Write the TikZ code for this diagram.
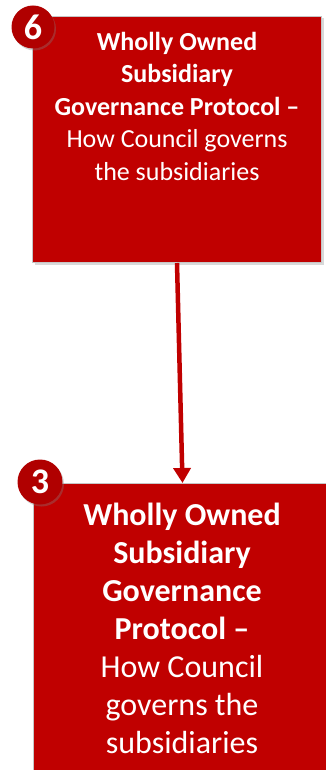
\documentclass[tikz,border=0pt]{standalone}
\usepackage{fontspec}
\setmainfont{Carlito}
\usepackage{xcolor}
\usepackage{tikz}
\usetikzlibrary{arrows.meta, positioning, shadows}
\definecolor{boxred}{RGB}{192,0,0}
\definecolor{badgered}{RGB}{176,0,0}

\begin{document}
\begin{tikzpicture}[
  x=1pt, y=-1pt,
  box/.style={draw=gray!45, line width=1pt, fill=boxred, inner sep=0pt,
    drop shadow={shadow xshift=2pt, shadow yshift=-2pt, opacity=0.3}},
  badge/.style={circle, fill=badgered, text=white, font=\bfseries\fontsize{36}{36}\selectfont,
    minimum size=43pt, inner sep=0pt,
    drop shadow={shadow xshift=1.5pt, shadow yshift=-2pt, opacity=0.35}},
  label/.style={text=white, align=center, inner sep=0pt, anchor=north},
  arrow/.style={-{Triangle[width=17pt, length=15pt]}, line width=4.5pt, draw=boxred}
]
\clip (0,0) rectangle (326,770);
\useasboundingbox (0,0) rectangle (326,770);

% Boxes
\node[box, minimum width=289pt, minimum height=246pt, anchor=north west] (p6) at (32,16) {};
\node[box, minimum width=298pt, minimum height=310pt, anchor=north west] (p3) at (33,483) {};

% Texts
\node[label, font=\fontsize{26}{32.4}\selectfont] (t6) at (177,32)
  {\textbf{Wholly Owned}\\ \textbf{Subsidiary}\\ \textbf{Governance Protocol –}\\ How Council governs\\ the subsidiaries};
\node[label, font=\fontsize{32}{37.9}\selectfont] (t3) at (182,503)
  {\textbf{Wholly Owned}\\ \textbf{Subsidiary}\\ \textbf{Governance}\\ \textbf{Protocol –}\\ How Council\\ governs the\\ subsidiaries};

% Badges
\node[badge] (b6) at (33,27) {6};
\node[badge, minimum size=45pt] (b3) at (40,482) {3};

% Pointers
\draw[arrow] (p6.south) -- (p3.north);

\end{tikzpicture}
\end{document}
